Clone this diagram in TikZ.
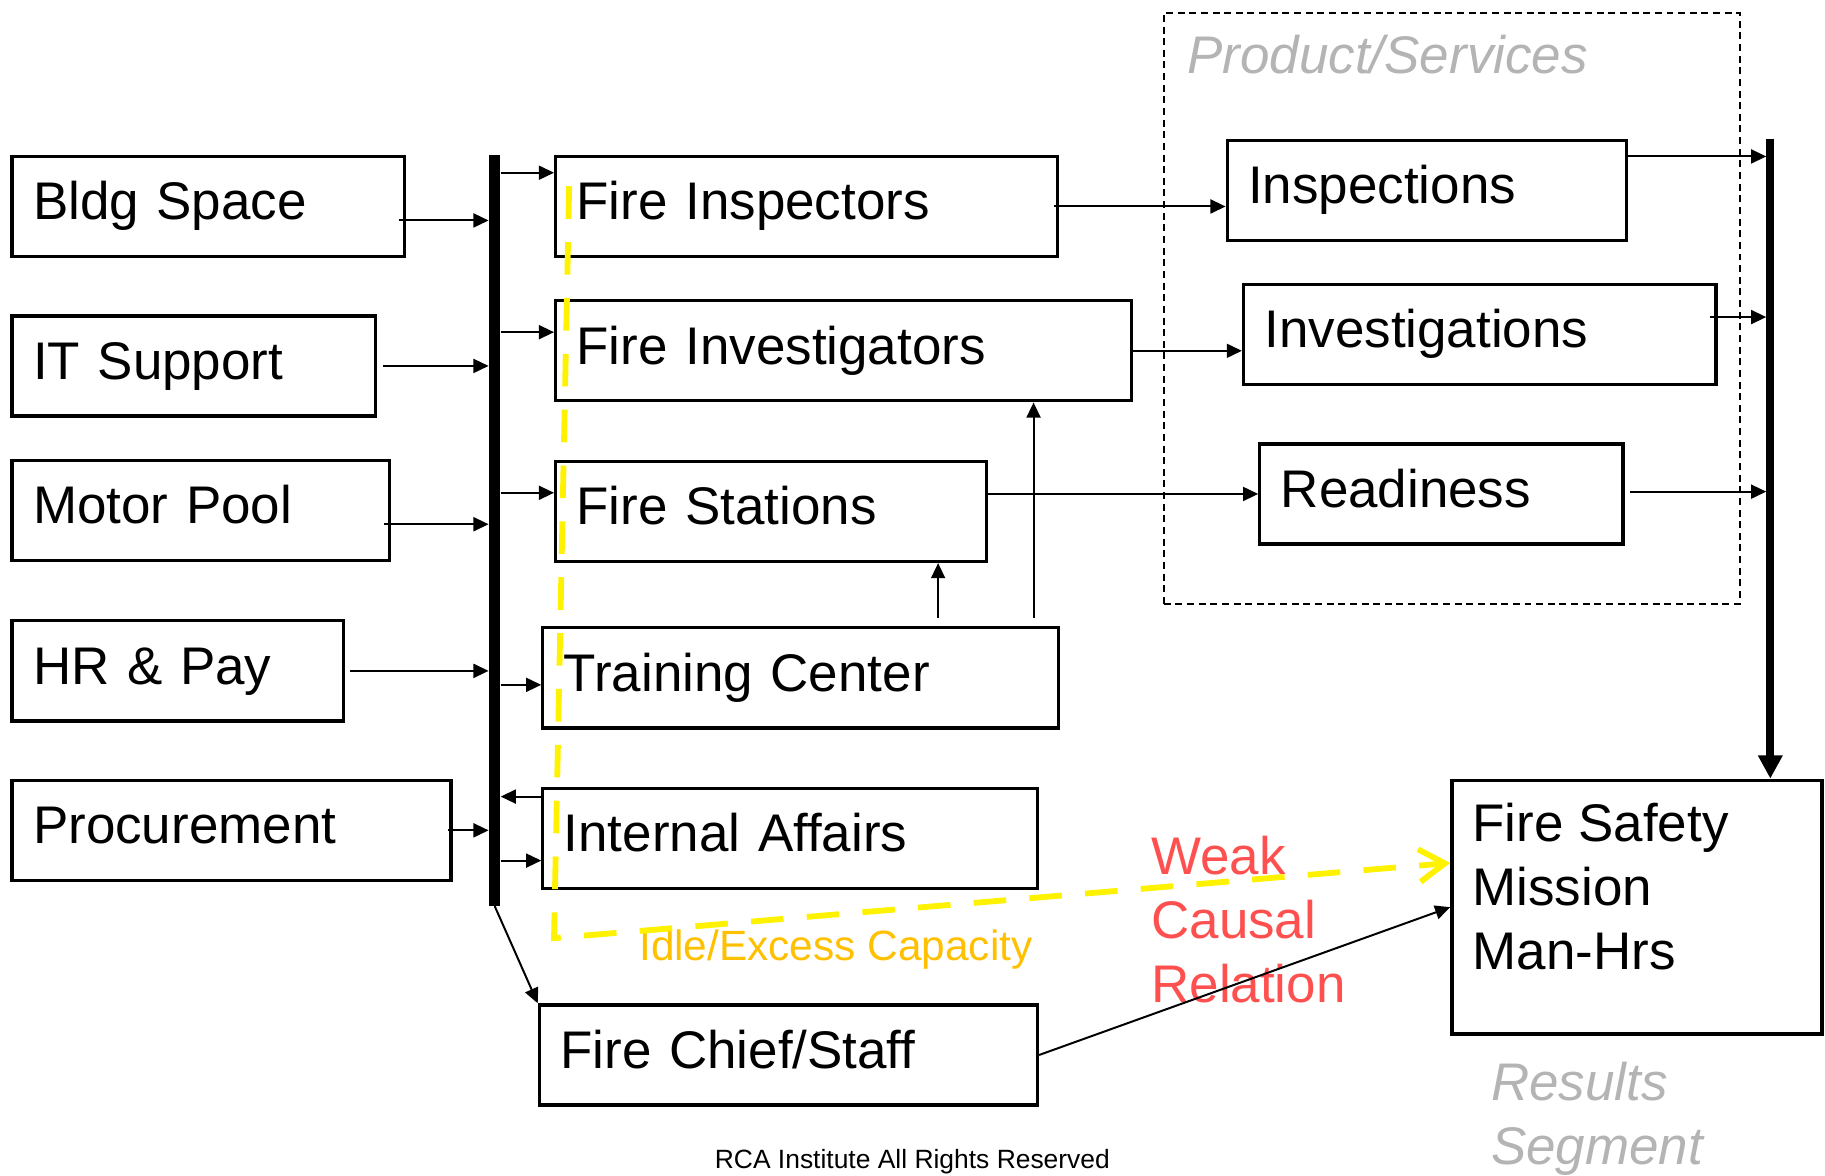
\documentclass[tikz,border=0pt]{standalone}
\usepackage{fontspec}
\setmainfont{Liberation Sans}
\usetikzlibrary{arrows.meta,calc}
\definecolor{capgold}{HTML}{FFC000}
\definecolor{weakred}{HTML}{FF5050}
\definecolor{seggray}{HTML}{B4B4B4}
\newcommand\boxfont{\fontsize{45.5pt}{55pt}\selectfont}
\newcommand\idlefont{\fontsize{36.4pt}{44pt}\selectfont}
\newcommand\notefont{\fontsize{22.7pt}{27pt}\selectfont}

\begin{document}
\begin{tikzpicture}[x=1pt,y=-1pt,
  box/.style={draw, line width=2.8pt, fill=white, rectangle, anchor=north west,
    inner xsep=18pt, inner ysep=0pt, minimum height=86pt,
    text height=33pt, text depth=10pt, align=left, font=\boxfont},
  arr/.style={line width=1.7pt, -{Triangle[length=13pt,width=12pt]}},
  idle/.style={draw=yellow, line width=5pt, dash pattern=on 28pt off 20pt},
  lbl/.style={inner sep=0pt, align=left},
]
\useasboundingbox (0,0) rectangle (1568,1010);

% product / services group
\node[draw, dash pattern=on 6pt off 4pt, line width=1.6pt, rectangle, anchor=north west,
  minimum width=495pt, minimum height=508pt, inner sep=0pt] (prodbox) at (999,10) {};
\node[lbl, anchor=base west, font=\boxfont\itshape, text=seggray] (prodlbl) at (1020,63) {Product/Services};

% support functions
\node[box, text width=301pt] (bldg) at (9,133) {Bldg Space};
\node[box, text width=276pt] (itsup) at (9,270) {IT Support};
\node[box, text width=288pt] (motor) at (9,394) {Motor Pool};
\node[box, text width=249pt] (hrpay) at (9,532) {HR \& Pay};
\node[box, text width=341pt] (procure) at (9,669) {Procurement};

% operating units
\node[box, text width=395pt] (finsp) at (476,133) {Fire Inspectors};
\node[box, text width=459pt] (finv) at (476,257) {Fire Investigators};
\node[box, text width=334pt] (fstat) at (476,395) {Fire Stations};
\node[box, text width=407pt] (train) at (465,538) {Training Center};
\node[box, text width=389pt] (intaff) at (465,676) {Internal Affairs};
\node[box, text width=392pt] (chief) at (462,862) {Fire Chief/Staff};

% products
\node[box, text width=307pt] (insp) at (1053,119) {Inspections};
\node[box, text width=370pt] (invest) at (1067,243) {Investigations};
\node[box, text width=276pt] (ready) at (1081,380) {Readiness};

% result
\node[box, text width=282pt, minimum height=218pt] (fsafe) at (1246,669) {};
\node[lbl, anchor=north west, font=\boxfont] (fstext) at (1265,690) {Fire Safety\\Mission\\Man-Hrs};
\node[lbl, anchor=north west, font=\boxfont\itshape, text=seggray] (results) at (1281,912) {Results\\Segment};

% annotations
\node[lbl, anchor=north west, font=\boxfont, text=weakred] (weak) at (989,718) {Weak\\Causal\\Relation};
\node[lbl, anchor=base west, font=\idlefont, text=capgold] (idletxt) at (549,825) {Idle/Excess Capacity};
\node[lbl, anchor=base west, font=\notefont] (rights) at (614,1004) {RCA Institute All Rights Reserved};

% left distribution bus
\node[fill, inner sep=0pt, minimum width=10pt, minimum height=645pt, anchor=north] (lbus) at (425,133) {};

% right collection bus
\coordinate (rbtop) at (1521,119);
\coordinate (rbL) at (1517.5,0);
\coordinate (upA) at (806,0);
\coordinate (upB) at (888,0);

% support -> bus
\draw[arr] ([xshift=-6pt,yshift=-12pt]bldg.east) -- ([yshift=-12pt]bldg.east -| lbus.west);
\draw[arr] ([xshift=5pt]itsup.east) -- (itsup.east -| lbus.west);
\draw[arr] ([xshift=-6pt,yshift=-12pt]motor.east) -- ([yshift=-12pt]motor.east -| lbus.west);
\draw[arr] ([xshift=4pt]hrpay.east) -- (hrpay.east -| lbus.west);
\draw[arr] ([xshift=-4pt]procure.east) -- (procure.east -| lbus.west);

% bus -> units
\draw[arr] ([yshift=29pt]finsp.west -| lbus.east) -- ([yshift=29pt]finsp.west);
\draw[arr] ([yshift=16pt]finv.west -| lbus.east) -- ([yshift=16pt]finv.west);
\draw[arr] ([yshift=16pt]fstat.west -| lbus.east) -- ([yshift=16pt]fstat.west);
\draw[arr] ([yshift=-6pt]train.west -| lbus.east) -- ([yshift=-6pt]train.west);
\draw[arr] ([yshift=36pt]intaff.west) -- ([yshift=36pt]intaff.west -| lbus.east);
\draw[arr] ([yshift=-19pt]intaff.west -| lbus.east) -- ([yshift=-19pt]intaff.west);
\draw[arr] (lbus.south) -- (chief.north west);

% training feeds
\draw[arr] ([yshift=7pt]train.north -| upA) -- (fstat.south -| upA);
\draw[arr] ([yshift=7pt]train.north -| upB) -- (finv.south -| upB);

% units -> products
\draw[arr] ([xshift=-4pt]finsp.east) -- (finsp.east -| insp.west);
\draw[arr] (finv.east) -- (finv.east -| invest.west);
\draw[arr] (ready.west -| fstat.east) -- (ready.west);

% products -> right bus
\draw[arr] ([yshift=29pt]insp.east) -- ([yshift=29pt]insp.east -| rbL);
\draw[arr] ([xshift=-7pt,yshift=15pt]invest.east) -- ([yshift=15pt]invest.east -| rbL);
\draw[arr] ([xshift=5pt,yshift=2pt]ready.east) -- ([yshift=2pt]ready.east -| rbL);
\draw[line width=7pt, -{Triangle[length=20pt,width=20pt]}] (rbtop) -- (rbtop |- fsafe.north);

% staff -> result
\draw[arr] (chief.east) -- (fsafe.west);

% idle capacity path
\coordinate (ytop) at (489,160);
\coordinate (ycorner) at (476,806);
\draw[idle, -{Straight Barb[length=22pt,width=28pt]}] (ytop) -- (ycorner) -- ([yshift=38pt]fsafe.west);
\end{tikzpicture}
\end{document}
